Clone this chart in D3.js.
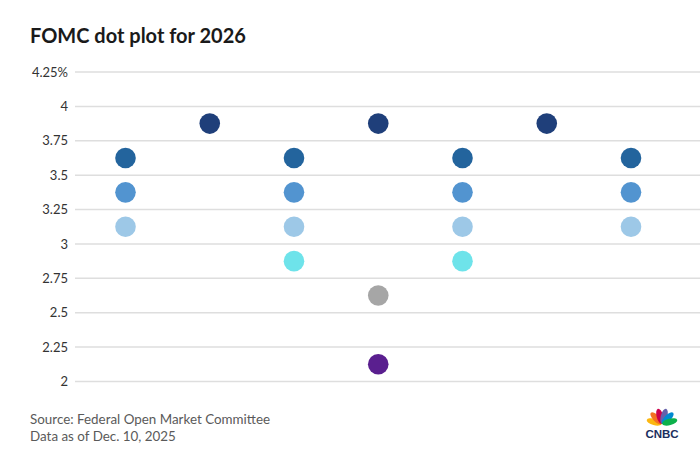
<!DOCTYPE html>
<html><head><meta charset="utf-8">
<script src="https://cdn.jsdelivr.net/npm/d3@7"></script>
<style>body{margin:0;background:#fff;font-family:Lato,"Open Sans",sans-serif;}</style>
</head><body>
<svg id="c" width="700" height="465"></svg>
<script>
const title = "FOMC dot plot for 2026";
const sourceLines = ["Source: Federal Open Market Committee", "Data as of Dec. 10, 2025"];
const yTicks = [2, 2.25, 2.5, 2.75, 3, 3.25, 3.5, 3.75, 4, 4.25];
const columns = [1, 2, 3, 4, 5, 6, 7];
const dotColumn = [1,1,1, 2, 3,3,3,3, 4,4,4, 5,5,5,5, 6, 7,7,7];
const dotRate   = [3.625,3.375,3.125, 3.875, 3.625,3.375,3.125,2.875, 3.875,2.625,2.125, 3.625,3.375,3.125,2.875, 3.875, 3.625,3.375,3.125];
const rateLevels = [3.875, 3.625, 3.375, 3.125, 2.875, 2.625, 2.125];
const rateColors = ["#1f3f7a", "#23649d", "#5294d0", "#9dc8e7", "#6ee3ea", "#a6a6a6", "#5a1f8f"];

const svg = d3.select("#c");
const x = d3.scalePoint().domain(columns).range([125.5, 631]);
const y = d3.scaleLinear().domain([2, 4.25]).range([381.5, 72]);
const color = d3.scaleOrdinal().domain(rateLevels).range(rateColors);

svg.append("text").attr("x", 30).attr("y", 43).text(title)
  .attr("font-size", 20).attr("font-weight", 700).attr("fill", "#1a1a1a");

const yAxis = d3.axisLeft(y).tickValues(yTicks).tickSize(0)
  .tickFormat(d => d === 4.25 ? "4.25%" : d3.format("")(d));
const g = svg.append("g").attr("transform", "translate(68,0)").call(yAxis);
g.select(".domain").remove();
g.selectAll("text").attr("font-size", 13).attr("fill", "#333").attr("font-family", "Lato,'Open Sans',sans-serif").attr("x", 0);

svg.append("g").selectAll("line").data(yTicks).join("line")
  .attr("x1", 75).attr("x2", 700).attr("y1", d => y(d)).attr("y2", d => y(d))
  .attr("stroke", "#dedede").attr("stroke-width", 1.5);

svg.append("g").selectAll("circle").data(dotRate.map((r, i) => ({c: dotColumn[i], r})))
  .join("circle")
  .attr("cx", d => x(d.c)).attr("cy", d => y(d.r)).attr("r", 10.3)
  .attr("fill", d => color(d.r));

svg.append("g").selectAll("text").data(sourceLines).join("text")
  .attr("x", 30).attr("y", (d, i) => 424 + i * 17).text(d => d)
  .attr("font-size", 13.4).attr("fill", "#5a5a5a");

// CNBC logo
const logo = svg.append("g").attr("transform", "translate(662,424)");
const fc = ["#fcb711","#f37021","#cc004c","#6460aa","#0089d0","#0db14b"];
const angs = [-75,-45,-15,15,45,75];
fc.forEach((c, i) => {
  logo.append("ellipse").attr("cx", 0).attr("cy", -8).attr("rx", 3.3).attr("ry", 7.8)
    .attr("fill", c).attr("transform", `rotate(${angs[i]},0,0)`);
});
logo.append("text").attr("x", 0).attr("y", 14).attr("text-anchor", "middle")
  .attr("font-size", 11.5).attr("font-weight", 700).attr("fill", "#1b2e5e")
  .attr("font-family", "'Liberation Sans',Arial,sans-serif").text("CNBC");
</script>
</body></html>
